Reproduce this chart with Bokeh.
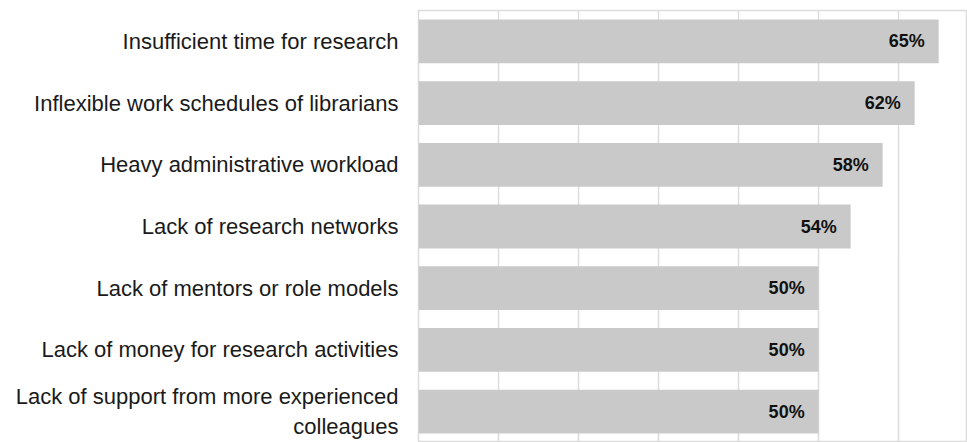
from bokeh.plotting import figure
from bokeh.models import ColumnDataSource, FactorRange
from bokeh.core.properties import value
from bokeh.embed import file_html
from bokeh.resources import INLINE

categories = [
    "Insufficient time for research",
    "Inflexible work schedules of librarians",
    "Heavy administrative workload",
    "Lack of research networks",
    "Lack of mentors or role models",
    "Lack of money for research activities",
    "Lack of support from more experienced\ncolleagues",
]
values = [65, 62, 58, 54, 50, 50, 50]
value_labels = ["65%", "62%", "58%", "54%", "50%", "50%", "50%"]

src = ColumnDataSource(dict(cat=categories, val=values, lab=value_labels))

FONT = "Liberation Sans"

p = figure(
    width=967, height=442,
    y_range=FactorRange(factors=list(reversed(categories)), range_padding=0),
    x_range=(0, 68.6),
    output_backend="svg", toolbar_location=None,
    min_border_left=418, min_border_right=0, min_border_top=10, min_border_bottom=0,
)

p.hbar(y="cat", right="val", left=0, height=0.71, source=src,
       fill_color="#c9c9c9", line_color=None)

p.text(x="val", y="cat", text="lab", source=src,
       text_align="right", text_baseline="middle", x_offset=-14,
       text_font=value(FONT), text_font_style="bold", text_font_size="18px",
       text_color="#111111")

p.xaxis.visible = False
p.xgrid.grid_line_color = "#dcdcdc"
p.xgrid.grid_line_width = 1.5
p.xgrid.ticker = [0, 10, 20, 30, 40, 50, 60]
p.ygrid.grid_line_color = None

ya = p.yaxis[0]
ya.axis_line_color = None
ya.major_tick_line_color = None
ya.minor_tick_line_color = None
ya.major_label_standoff = 14
ya.major_label_text_font = FONT
ya.major_label_text_font_size = "22px"
ya.major_label_text_color = "#1a1a1a"

p.outline_line_color = "#dcdcdc"
p.outline_line_width = 1.5
p.background_fill_color = "white"
p.border_fill_color = "white"

open("out.html", "w").write(file_html(p, INLINE))
